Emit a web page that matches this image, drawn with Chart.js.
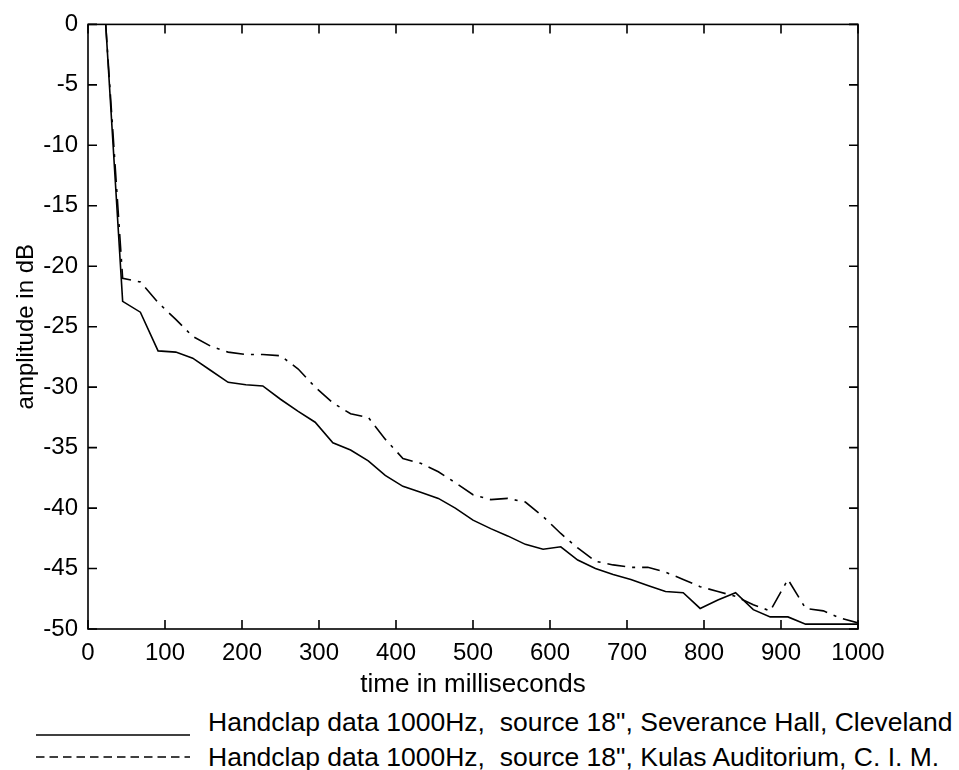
<!DOCTYPE html>
<html>
<head>
<meta charset="utf-8">
<script src="https://cdn.jsdelivr.net/npm/chart.js@4.4.1/dist/chart.umd.min.js"></script>
<style>
  body { margin: 0; background: #fff; }
  #wrap { position: relative; width: 959px; height: 770px; }
  #cv { position: absolute; left: 0; top: 0; }
  .leg { position: absolute; left: 208px; font-family: "Liberation Sans", Arial, sans-serif; font-size: 26.5px; line-height: 26.5px; white-space: pre; color: #000; }
  .legline { position: absolute; left: 36px; }
</style>
</head>
<body>
<div id="wrap">
  <canvas id="cv" width="959" height="700"></canvas>
  <svg class="legline" style="top:730px" width="156" height="10"><line x1="0" y1="5" x2="154" y2="5" stroke="#000" stroke-width="1.6"/></svg>
  <div class="leg" style="top:709px">Handclap data 1000Hz,  source 18", Severance Hall, Cleveland</div>
  <svg class="legline" style="top:752px" width="156" height="10"><line x1="0" y1="5" x2="154" y2="5" stroke="#000" stroke-width="1.6" stroke-dasharray="8.5 5"/></svg>
  <div class="leg" style="top:744px">Handclap data 1000Hz,  source 18", Kulas Auditorium, C. I. M.</div>
</div>
<script>
// sample times in ms
const times = [23, 45, 68, 91, 114, 136, 159, 182, 205, 227, 250, 273, 295, 318, 341, 364, 386, 409, 432, 455, 477, 500,
  523, 545, 568, 591, 614, 636, 659, 682, 705, 727, 750, 773, 795, 818, 841, 864, 886, 909, 932, 955, 977, 1000];

// amplitude in dB, Severance Hall (solid)
const severance = [0, -22.9, -23.8, -27.0, -27.1, -27.6, -28.6, -29.6, -29.8, -29.9, -31.0, -32.0, -32.9, -34.6, -35.2, -36.1,
  -37.3, -38.2, -38.7, -39.2, -40.0, -41.0, -41.7, -42.3, -43.0, -43.4, -43.2, -44.3, -45.0, -45.5, -45.9, -46.4, -46.9,
  -47.0, -48.3, -47.6, -47.0, -48.4, -49.0, -49.0, -49.6, -49.6, -49.6, -49.6];

// amplitude in dB, Kulas Auditorium (dash-dot)
const kulas = [0, -21.0, -21.3, -23.0, -24.4, -25.8, -26.6, -27.1, -27.3, -27.3, -27.4, -28.5, -30.0, -31.3, -32.2, -32.5,
  -34.3, -35.9, -36.3, -37.0, -37.9, -38.9, -39.3, -39.2, -39.5, -40.7, -42.1, -43.3, -44.4, -44.7, -44.9, -44.9, -45.3,
  -45.9, -46.5, -46.9, -47.3, -48.0, -48.5, -45.9, -48.3, -48.5, -49.1, -49.5];

const xTicks = [0, 100, 200, 300, 400, 500, 600, 700, 800, 900, 1000];
const yTicks = [0, -5, -10, -15, -20, -25, -30, -35, -40, -45, -50];

const toPts = arr => arr.map((v, i) => ({ x: times[i], y: v }));

// box around plot + inward ticks on all four sides (matlab style)
const boxTicks = {
  id: 'boxTicks',
  afterDatasetsDraw(chart) {
    const { ctx, chartArea: a, scales: { x, y } } = chart;
    const len = 9;
    ctx.save();
    ctx.strokeStyle = '#000';
    ctx.lineWidth = 1.6;
    ctx.strokeRect(a.left, a.top, a.right - a.left, a.bottom - a.top);
    ctx.beginPath();
    x.ticks.forEach(t => {
      const px = x.getPixelForValue(t.value);
      ctx.moveTo(px, a.bottom); ctx.lineTo(px, a.bottom - len);
      ctx.moveTo(px, a.top); ctx.lineTo(px, a.top + len);
    });
    y.ticks.forEach(t => {
      const py = y.getPixelForValue(t.value);
      ctx.moveTo(a.left, py); ctx.lineTo(a.left + len, py);
      ctx.moveTo(a.right, py); ctx.lineTo(a.right - len, py);
    });
    ctx.stroke();
    ctx.restore();
  }
};

const font = { family: '"Liberation Sans", Arial, sans-serif', size: 24 };

new Chart(document.getElementById('cv').getContext('2d'), {
  type: 'line',
  data: {
    datasets: [{
      label: 'Severance Hall',
      data: toPts(severance),
      borderColor: '#000',
      borderWidth: 1.6,
      pointRadius: 0,
      tension: 0
    }, {
      label: 'Kulas Auditorium',
      data: toPts(kulas),
      borderColor: '#000',
      borderWidth: 1.6,
      borderDash: [18, 7, 3, 7],
      pointRadius: 0,
      tension: 0
    }]
  },
  options: {
    responsive: false,
    animation: false,
    layout: { padding: { left: 0, top: 24, right: 101, bottom: 0 } },
    plugins: { legend: { display: false }, tooltip: { enabled: false } },
    scales: {
      x: {
        type: 'linear',
        min: 0,
        max: 1000,
        afterBuildTicks: s => { s.ticks = xTicks.map(v => ({ value: v })); },
        afterFit: s => { s.height = 71; },
        grid: { display: false, drawTicks: false },
        border: { display: false },
        ticks: { color: '#000', font: font, padding: 10, maxRotation: 0, callback: v => String(v) },
        title: { display: true, text: 'time in milliseconds', color: '#000', font: { family: font.family, size: 26 }, padding: { top: 0, bottom: 0 } }
      },
      y: {
        min: -50,
        max: 0,
        afterBuildTicks: s => { s.ticks = yTicks.map(v => ({ value: v })); },
        afterFit: s => { s.width = 88; },
        grid: { display: false, drawTicks: false },
        border: { display: false },
        ticks: { color: '#000', font: font, padding: 10, callback: v => String(v) },
        title: { display: true, text: 'amplitude in dB', color: '#000', font: { family: font.family, size: 24 }, padding: { top: 12, bottom: 0 } }
      }
    }
  },
  plugins: [boxTicks]
});
</script>
</body>
</html>
